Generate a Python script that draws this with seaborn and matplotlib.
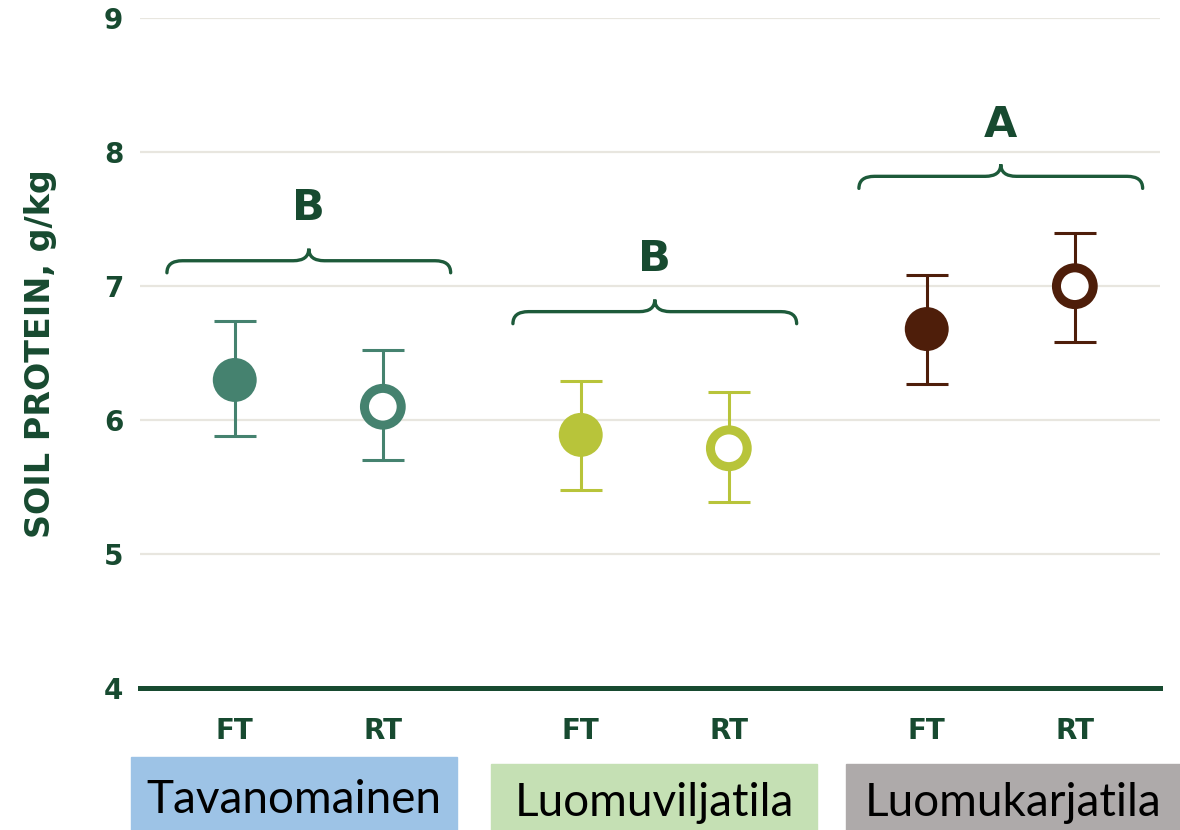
import numpy as np
import pandas as pd
import seaborn as sns
import matplotlib.pyplot as plt
from matplotlib.path import Path
from matplotlib.patches import PathPatch, Rectangle

# Data
groups = ['Tavanomainen', 'Luomuviljatila', 'Luomukarjatila']
tillage = ['FT', 'RT']
means = [6.30, 6.10, 5.89, 5.79, 6.68, 7.00]
err_low = [5.88, 5.70, 5.48, 5.39, 6.27, 6.58]
err_high = [6.74, 6.52, 6.29, 6.21, 7.08, 7.40]
letters = ['B', 'B', 'A']
brace_y = [7.19, 6.81, 7.82]
letter_y = [7.58, 7.20, 8.20]

group_colors = ['#45826f', '#b8c43a', '#4e1e0a']
box_colors = ['#9dc3e6', '#c5e0b4', '#aeaaaa']
dark = '#174a30'

df = pd.DataFrame({
    'group': np.repeat(groups, 2),
    'tillage': tillage * 3,
    'mean': means,
    'low': err_low,
    'high': err_high,
})
df['x'] = np.repeat(np.arange(3), 2) + np.tile([-0.214, 0.214], 3)

sns.set_style('white')
plt.rcParams['font.family'] = ['DejaVu Sans']

fig = plt.figure(figsize=(11.8, 8.3), dpi=100)
ax = fig.add_axes([0.1186, 0.171, 0.8644, 0.807])

# Gridlines
for yv in [5, 6, 7, 8, 9]:
    ax.axhline(yv, color='#e8e6df', lw=1.6, zorder=0)

# Error bars
for i, row in df.iterrows():
    c = group_colors[groups.index(row['group'])]
    ax.errorbar(row['x'], row['mean'],
                yerr=[[row['mean'] - row['low']], [row['high'] - row['mean']]],
                fmt='none', ecolor=c, elinewidth=2.2, capsize=15, capthick=2.2,
                zorder=2)

# Points: FT filled, RT open
filled = df[df['tillage'] == 'FT']
opened = df[df['tillage'] == 'RT']
sns.scatterplot(data=filled, x='x', y='mean', hue='group', palette=group_colors,
                s=1000, linewidth=0, legend=False, zorder=3, ax=ax)
sns.scatterplot(data=opened, x='x', y='mean', hue='group', palette=group_colors,
                s=700, linewidth=0, legend=False, zorder=3, ax=ax)
ring = ax.collections[-1]
ring.set_facecolor('white')
ring.set_edgecolor([group_colors[groups.index(g)] for g in opened['group']])
ring.set_linewidth(6.5)


# Braces
def brace(ax, x0, x1, y, h, color):
    xm = (x0 + x1) / 2
    r = 0.045
    verts = [(x0, y - h), (x0, y), (x0 + r, y),
             (xm - r, y), (xm, y), (xm, y + h),
             (xm, y), (xm + r, y),
             (x1 - r, y), (x1, y), (x1, y - h)]
    codes = [Path.MOVETO, Path.CURVE3, Path.CURVE3,
             Path.LINETO, Path.CURVE3, Path.CURVE3,
             Path.CURVE3, Path.CURVE3,
             Path.LINETO, Path.CURVE3, Path.CURVE3]
    ax.add_patch(PathPatch(Path(verts, codes), fill=False, edgecolor=color,
                           lw=2.4, capstyle='round', zorder=3))


for i in range(3):
    brace(ax, i - 0.41, i + 0.41, brace_y[i], 0.09, '#1d5a3a')
    ax.text(i, letter_y[i], letters[i], ha='center', va='center',
            fontsize=31, fontweight='bold', color=dark)

ax.set_xlim(-0.488, 2.46)
ax.set_ylim(4, 9)
ax.set_yticks([4, 5, 6, 7, 8, 9])
ax.set_xticks(df['x'])
ax.set_xticklabels(df['tillage'])
ax.tick_params(axis='y', length=0, pad=12, labelsize=20, labelcolor=dark)
ax.tick_params(axis='x', length=7, width=1, color=dark, pad=14,
               labelsize=20, labelcolor=dark, direction='out')
for lab in ax.get_xticklabels() + ax.get_yticklabels():
    lab.set_fontweight('bold')
ax.set_xlabel('')
ax.set_ylabel('SOIL PROTEIN, g/kg', fontsize=24, fontweight='bold', color=dark)
ax.yaxis.set_label_coords(-0.081, 0.5)
for s in ['top', 'right', 'left']:
    ax.spines[s].set_visible(False)
ax.spines['bottom'].set_color(dark)
ax.spines['bottom'].set_linewidth(3.6)

# Group label boxes
W, H = 1180, 830
boxes = [(131, 457, 757), (491, 817, 764), (846, 1180, 764)]
for (x0, x1, y0), name, bc in zip(boxes, groups, box_colors):
    fig.patches.append(Rectangle((x0 / W, 0), (x1 - x0) / W, (H - y0) / H,
                                 transform=fig.transFigure, color=bc, zorder=0))
    fig.text((x0 + x1) / 2 / W, (H - (y0 + H) / 2 - 6) / H, name,
             ha='center', va='center', fontsize=33, color='black',
             family=['Lato', 'DejaVu Sans'])

fig.savefig('out.png', dpi=100)
